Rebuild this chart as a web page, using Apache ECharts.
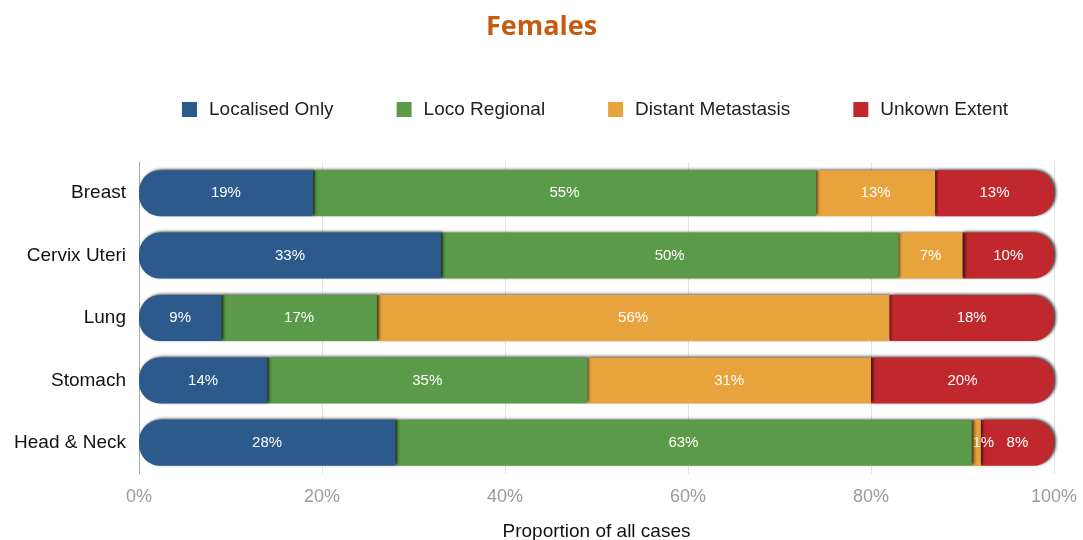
<!DOCTYPE html>
<html>
<head>
<meta charset="utf-8">
<script src="https://cdn.jsdelivr.net/npm/echarts@6/dist/echarts.min.js"></script>
<style>
  html, body { margin: 0; padding: 0; background: #fff; }
  #chart { width: 1083px; height: 540px; }
</style>
</head>
<body>
<div id="chart"></div>
<script>
// Cancer sites (top to bottom)
const sites = ['Breast', 'Cervix Uteri', 'Lung', 'Stomach', 'Head & Neck'];

// Share of cases by stage at diagnosis, percent
const localisedOnly     = [19, 33, 9, 14, 28];
const locoRegional      = [55, 50, 17, 35, 63];
const distantMetastasis = [13, 7, 56, 31, 1];
const unknownExtent     = [13, 10, 18, 20, 8];

const stageNames  = ['Localised Only', 'Loco Regional', 'Distant Metastasis', 'Unkown Extent'];
const stageColors = ['#2d5a8c', '#5b9a48', '#e8a33d', '#c0282e'];
const stageValues = [localisedOnly, locoRegional, distantMetastasis, unknownExtent];

const FONT = '"Liberation Sans", Arial, Helvetica, sans-serif';
const R = 21;

const series = stageValues.map((vals, i) => ({
  name: stageNames[i],
  type: 'bar',
  stack: 'total',
  barWidth: 46,
  // very thin segments get their label nudged right so it stays readable
  data: vals.map(v => v < 3 ? { value: v, label: { offset: [7, 0] } } : v),
  itemStyle: {
    color: stageColors[i],
    borderRadius: i === 0 ? [R, 0, 0, R] : (i === stageValues.length - 1 ? [0, R, R, 0] : 0),
    shadowColor: 'rgba(0,0,0,0.7)',
    shadowBlur: 3,
    shadowOffsetX: 2,
    shadowOffsetY: -1
  },
  label: {
    show: true,
    position: 'inside',
    formatter: p => p.value + '%',
    color: '#fff',
    fontFamily: FONT,
    fontSize: 15
  },
  z: 2 + (stageValues.length - i)
}));

const chart = echarts.init(document.getElementById('chart'), null, { renderer: 'canvas' });
chart.setOption({
  animation: false,
  backgroundColor: '#ffffff',
  title: {
    text: 'Females',
    left: 'center',
    top: 9,
    textStyle: {
      color: '#c55a11',
      fontFamily: '"Open Sans", sans-serif',
      fontWeight: 'bold',
      fontSize: 27
    }
  },
  legend: {
    top: 95,
    left: 177,
    itemWidth: 15,
    itemHeight: 15,
    itemGap: 63,
    icon: 'rect',
    data: stageNames,
    textStyle: {
      fontFamily: FONT,
      fontSize: 19,
      color: '#222',
      padding: [0, 0, 0, 7]
    }
  },
  grid: {
    left: 139,
    right: 29,
    top: 162,
    bottom: 66,
    containLabel: false,
    outerBoundsMode: 'none'
  },
  xAxis: {
    type: 'value',
    min: 0,
    max: 100,
    interval: 20,
    name: 'Proportion of all cases',
    nameLocation: 'middle',
    nameGap: 48,
    nameTextStyle: { fontFamily: FONT, fontSize: 19, color: '#111' },
    axisLabel: {
      formatter: '{value}%',
      fontFamily: FONT,
      fontSize: 18,
      color: '#9a9a9a',
      margin: 14
    },
    axisLine: { show: false },
    axisTick: { show: false },
    splitLine: { show: true, lineStyle: { color: '#e2e2e2', width: 1 } }
  },
  yAxis: {
    type: 'category',
    data: sites,
    inverse: true,
    axisLabel: {
      fontFamily: FONT,
      fontSize: 19,
      color: '#111',
      margin: 13
    },
    axisLine: { show: true, lineStyle: { color: '#a8a8a8', width: 1 } },
    axisTick: { show: false },
    splitLine: { show: false }
  },
  series: series
});
</script>
</body>
</html>
